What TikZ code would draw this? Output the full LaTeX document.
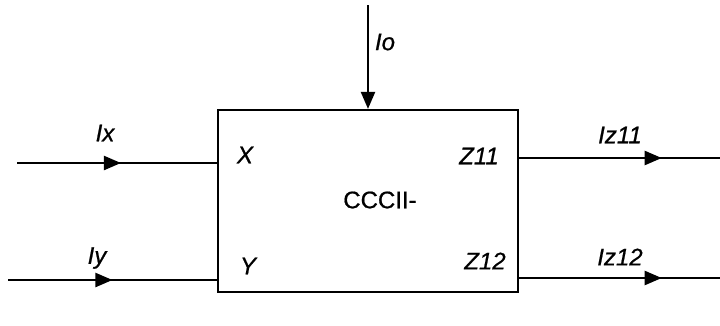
\documentclass[tikz,border=0pt]{standalone}
\usepackage{fontspec}
\setmainfont{Liberation Sans}
\newfontfamily\heavy{Liberation Sans}[FakeBold=0.7]
\usetikzlibrary{arrows.meta,decorations.markings}
\begin{document}
\begin{tikzpicture}[x=1pt,y=-1pt,
  wire/.style={line width=2.2pt},
  midarrow/.style={postaction={decorate},decoration={markings,mark=at position #1 with {\arrow{Triangle[length=17pt,width=14pt]}}}},
  lbl/.style={font=\heavy\fontsize{24}{26}\selectfont\itshape, inner sep=0pt},
  box/.style={draw, line width=2.2pt, minimum width=300pt, minimum height=182pt, inner sep=0pt}]
\useasboundingbox (0,0) rectangle (720,325);
\node[box] (cc) at (368,201) {};
\node[font=\heavy\fontsize{24}{26}\selectfont, inner sep=0pt] (name) at (380,200) {CCCII-};
\coordinate (ixs) at (17,163);
\coordinate (iys) at (8,280);
\coordinate (z1e) at (720,158);
\coordinate (z2e) at (720,278);
\coordinate (ios) at (368,5);
\coordinate (xin) at (cc.west |- ixs);
\coordinate (yin) at (cc.west |- iys);
\coordinate (z1o) at (cc.east |- z1e);
\coordinate (z2o) at (cc.east |- z2e);
\draw[wire, midarrow=0.52] (ixs) -- (xin);
\draw[wire, midarrow=0.50] (iys) -- (yin);
\draw[wire, midarrow=0.71] (z1o) -- (z1e);
\draw[wire, midarrow=0.71] (z2o) -- (z2e);
\draw[wire, -{Triangle[length=17pt,width=14pt]}] (ios) -- (cc.north);
\node[lbl] (lix) at (105,133) {Ix};
\node[lbl] (liy) at (97,258) {Iy};
\node[lbl] (lio) at (385,42) {Io};
\node[lbl] (liz1) at (620,135) {Iz11};
\node[lbl] (liz2) at (620,257) {Iz12};
\node[lbl] (lx) at (245,155) {X};
\node[lbl] (ly) at (248,266) {Y};
\node[lbl] (lz1) at (479,156) {Z11};
\node[lbl] (lz2) at (485,261) {Z12};
\end{tikzpicture}
\end{document}
